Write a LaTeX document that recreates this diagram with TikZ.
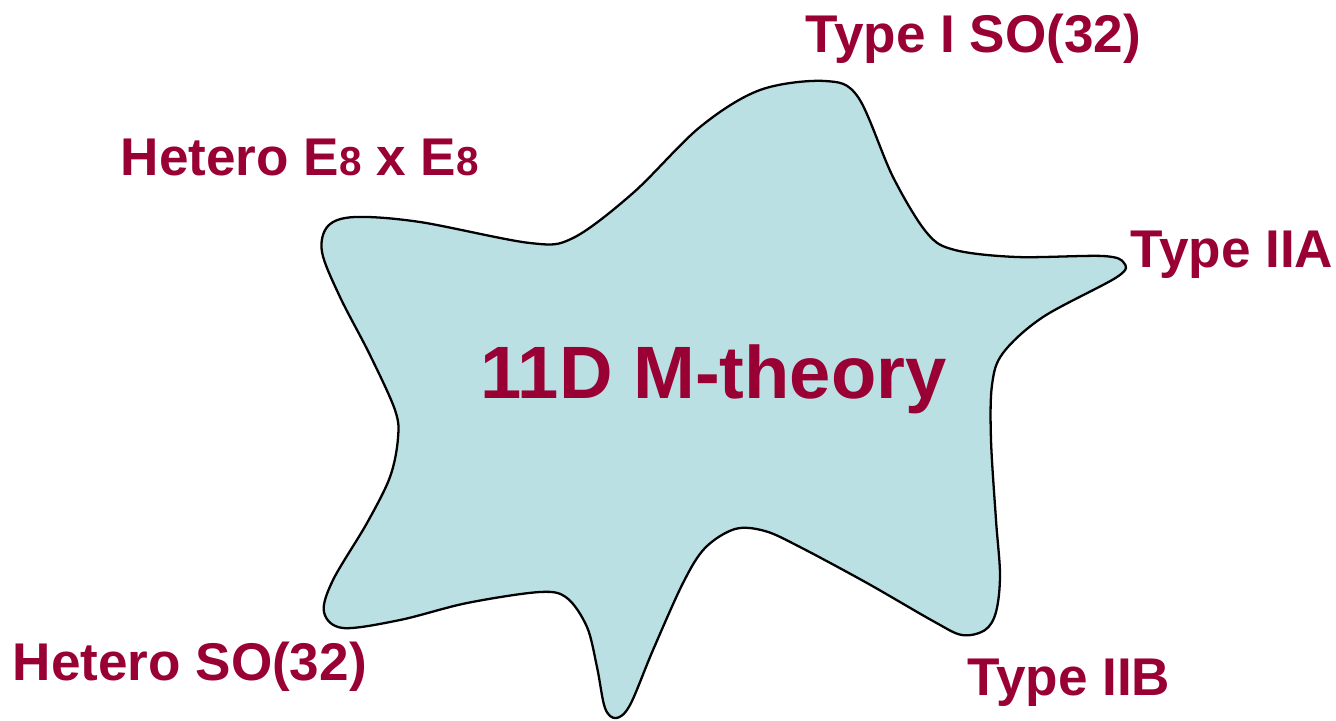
\documentclass[tikz,border=0pt]{standalone}
\usepackage{fontspec}
\setmainfont{Liberation Sans}
\usepackage{xcolor}
\usetikzlibrary{positioning}
\definecolor{maroon}{HTML}{990033}
\definecolor{bluegreen}{HTML}{BAE0E3}
\tikzset{
  lbl/.style={anchor=base west, inner sep=0pt, text=maroon, font=\fontsize{15.1}{17}\selectfont\bfseries},
  big/.style={anchor=base west, inner sep=0pt, text=maroon, font=\fontsize{21.1}{24}\selectfont\bfseries},
  blob/.style={draw=black, fill=bluegreen, line width=0.65pt}
}
\newcommand{\esub}{{\fontsize{11.5}{12}\selectfont 8}}

\begin{document}
\begin{tikzpicture}[x=0.01cm,y=-0.01cm]
  \useasboundingbox (0,0) rectangle (1336,720);
  % the M-theory blob
  \draw[blob] plot[smooth cycle, tension=0.55] coordinates {
    (825,81) (858,97) (893,177) (927,233) (955,250) (1017,257) (1103,256)
    (1124,263) (1117,277) (1043,317) (1003,353) (992,385) (991,440)
    (996,520) (1000,575) (996,612) (985,630) (962,635) (933,621)
    (867,583) (800,547) (765,531) (735,529) (705,548) (683,583)
    (653,650) (630,705) (616,718) (605,708) (597,667) (587,627)
    (567,598) (540,592) (467,603) (400,620) (343,628) (324,612)
    (333,580) (367,523) (390,477) (398,438) (395,410) (370,355)
    (340,297) (322,252) (328,226) (355,217) (420,222) (530,243)
    (573,238) (633,193) (700,127) (760,90) };
  \node[big] (mtheory) at (480,398) {11D M-theory};
  % string theories round it
  \node[lbl] (typeI) at (805,52) {Type I SO(32)};
  \node[lbl] (heteroE) at (120,175) {Hetero E\esub\ x E\esub};
  \node[lbl] (typeIIA) at (1130,267) {Type IIA};
  \node[lbl] (heteroSO) at (12,680) {Hetero SO(32)};
  \node[lbl] (typeIIB) at (967,695) {Type IIB};
\end{tikzpicture}
\end{document}
